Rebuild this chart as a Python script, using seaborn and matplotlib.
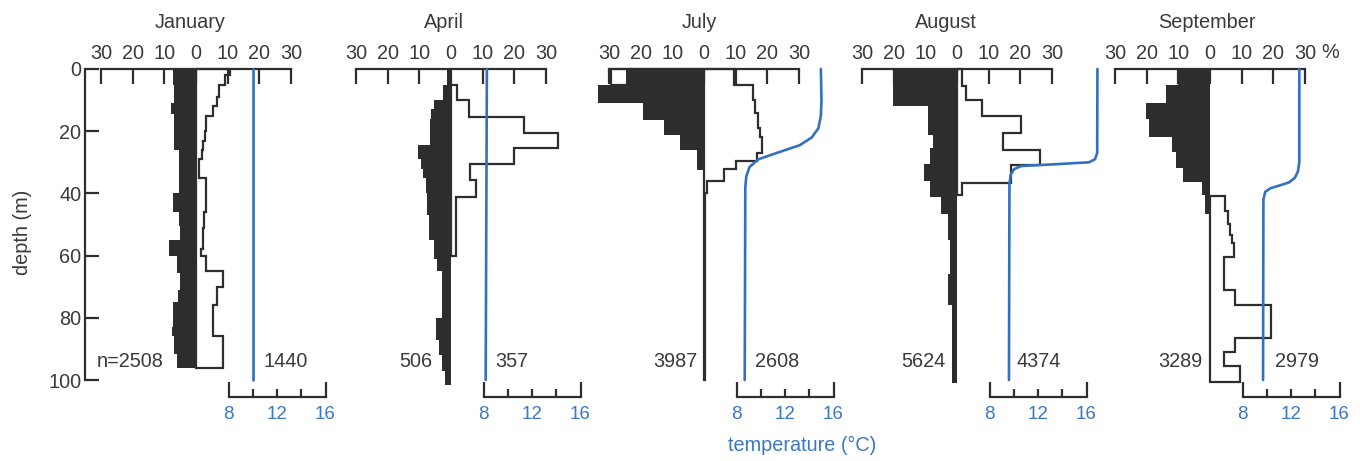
import numpy as np
import matplotlib
matplotlib.use("Agg")
import matplotlib.pyplot as plt
import matplotlib.transforms as mtransforms
from matplotlib import font_manager
import seaborn as sns

# ---------------- data ----------------
months = ["January", "April", "July", "August", "September"]
n_left = ["n=2508", "506", "3987", "5624", "3289"]
n_right = ["1440", "357", "2608", "4374", "2979"]

# filled (left) histograms: depth bin edges (m) and percentages
jan_fill_edges = [0, 5, 11, 14.5, 26, 40, 46, 50.5, 55, 60, 65.5, 71, 75, 83, 86, 91.5, 96]
jan_fill_vals = [7.4, 6.9, 8.0, 6.9, 5.4, 7.2, 5.4, 5.1, 8.5, 5.9, 5.1, 5.6, 7.2, 7.7, 6.9, 5.9]
apr_fill_edges = [0, 5, 10, 13, 16, 24.5, 29, 32, 35, 40, 47, 55, 61, 65, 80, 87, 92, 97, 101.5]
apr_fill_vals = [1.2, 2.6, 5.5, 6.2, 6.8, 10.3, 9.6, 8.8, 8.0, 7.5, 7.0, 5.4, 4.4, 2.8, 4.9, 3.8, 2.8, 1.8]
jul_fill_edges = [0, 5.2, 11, 16.5, 21.3, 26, 32.5, 36]
jul_fill_vals = [24.7, 33.6, 19.3, 12.8, 7.6, 2.1, 0.4]
aug_fill_edges = [0, 12, 21.3, 25.4, 30.6, 36, 41, 46.5, 55, 66, 76, 101]
aug_fill_vals = [20.3, 9.2, 7.5, 8.5, 10.5, 8.6, 5.0, 3.0, 2.2, 2.8, 1.6]
sep_fill_edges = [0, 5.2, 11, 16, 22, 26.6, 31.7, 36.2, 40.6, 46.6]
sep_fill_vals = [10.2, 13.8, 20.3, 19.2, 12.0, 10.9, 8.7, 2.6, 1.5]

# open (right) histograms
jan_open_edges = [0, 2, 5, 9, 12, 15, 20, 23, 26, 29, 35, 46, 51, 58, 60, 65, 70, 76, 86, 96]
jan_open_vals = [10.7, 9.2, 7.4, 6.5, 5.5, 3.2, 2.8, 2.3, 1.8, 0.9, 3.2, 2.5, 2.2, 1.5, 3.2, 8.5, 6.5, 5.5, 8.5]
apr_open_edges = [5.3, 10, 15.5, 20.5, 25.5, 30.4, 35.8, 41, 60]
apr_open_vals = [1.8, 5.8, 23, 34, 20, 6, 8, 1.5]
jul_open_edges = [0, 5.2, 10, 14, 19, 22, 27, 29.5, 32, 36, 40, 100]
jul_open_vals = [9.4, 15.6, 16.2, 17.2, 17.8, 18.3, 16.7, 10, 6.3, 1.0, 0.3]
aug_open_edges = [0, 5.5, 10, 15, 20.5, 26, 31, 36.5, 40.5]
aug_open_vals = [1.5, 3.0, 8.0, 20.2, 14.5, 26.3, 17.0, 1.5]
sep_open_edges = [40.8, 45.6, 50, 53.5, 56, 60.5, 71, 75.8, 86.4, 91, 95.5, 100.8]
sep_open_vals = [4.7, 5.8, 6.4, 6.9, 7.6, 4.4, 7.9, 19.2, 7.9, 4.3, 9.4]

# July surface bin: outline extends beyond the filled part
jul_box_edges = [0, 5.2]
jul_box_vals = [29.5]

# temperature profiles
jan_t_depth = [0, 100]
jan_t_temp = [10.0, 10.0]
apr_t_depth = [0, 100]
apr_t_temp = [8.25, 8.15]
jul_t_depth = [0, 10, 15, 19, 22, 24.5, 27, 29, 31.5, 34.5, 38, 100]
jul_t_temp = [14.95, 15.0, 14.95, 14.75, 14.2, 13.2, 11.3, 9.8, 9.05, 8.78, 8.7, 8.65]
aug_t_depth = [0, 27, 29, 30, 30.6, 31.2, 32.2, 34, 37, 100]
aug_t_temp = [16.9, 16.88, 16.7, 16.2, 13.5, 10.6, 10.0, 9.72, 9.62, 9.58]
sep_t_depth = [0, 30, 33, 35, 36.5, 37.5, 38.3, 39.5, 42, 100]
sep_t_temp = [12.67, 12.67, 12.55, 12.3, 11.8, 11.0, 10.3, 9.85, 9.7, 9.67]

pct_ticks = [-30, -20, -10, 0, 10, 20, 30]
pct_labels = ["30", "20", "10", "0", "10", "20", "30"]
depth_ticks = [0, 20, 40, 60, 80, 100]
temp_major = [8, 16]
temp_minor = [10, 12, 14]

fills = [(jan_fill_edges, jan_fill_vals), (apr_fill_edges, apr_fill_vals),
         (jul_fill_edges, jul_fill_vals), (aug_fill_edges, aug_fill_vals),
         (sep_fill_edges, sep_fill_vals)]
opens = [(jan_open_edges, jan_open_vals), (apr_open_edges, apr_open_vals),
         (jul_open_edges, jul_open_vals), (aug_open_edges, aug_open_vals),
         (sep_open_edges, sep_open_vals)]
temps = [(jan_t_depth, jan_t_temp), (apr_t_depth, apr_t_temp),
         (jul_t_depth, jul_t_temp), (aug_t_depth, aug_t_temp),
         (sep_t_depth, sep_t_temp)]

# ---------------- layout / style ----------------
sns.set_theme(style="white")
avail = {f.name for f in font_manager.fontManager.ttflist}
fam = "Liberation Sans" if "Liberation Sans" in avail else "DejaVu Sans"
plt.rcParams["font.family"] = [fam, "DejaVu Sans"]

W, H = 1360, 461
zero_px = [196, 451, 704, 957, 1210]
PX = 3.16                # px per percent unit
X_LO, X_HI = -35, 45
Y0_PX, Y100_PX = 69, 380
T8_PCT, PCT_PER_C = 10.4, 3.825

title_x = [-1.9, -2.1, -1.6, -3.6, -1.0]
nl_x = [-10.4, -5.8, -2.1, -3.5, -2.3]
nr_x = [21.3, 13.9, 16.1, 18.9, 20.6]

DARK = "#2d2d2d"
LINE = "#2e2e2e"
TXT = "#3a3a3a"
BLUE = "#3470c0"
BLUE_T = "#3b78c4"
FS = 14.3

fig = plt.figure(figsize=(W / 100, H / 100), dpi=100)
fig.patch.set_facecolor("white")

for i, x0 in enumerate(zero_px):
    left = (x0 + X_LO * PX) / W
    width = (X_HI - X_LO) * PX / W
    bottom = (H - Y100_PX) / H
    height = (Y100_PX - Y0_PX) / H
    ax = fig.add_axes([left, bottom, width, height])
    ax.patch.set_alpha(0)
    ax2 = ax.twiny()
    ax2.patch.set_alpha(0)
    ax.set_xlim(X_LO, X_HI)

    # histograms
    e, v = fills[i]
    ax.stairs(-np.asarray(v), e, orientation="horizontal", baseline=0, fill=True,
              color=DARK, lw=0, clip_on=False, zorder=3)
    e, v = opens[i]
    ax.stairs(np.asarray(v), e, orientation="horizontal",
              baseline=np.zeros(len(v)), fill=False, color=LINE, lw=1.6,
              clip_on=False, zorder=4)
    if i == 2:
        ax.stairs(-np.asarray(jul_box_vals), jul_box_edges, orientation="horizontal",
                  baseline=0, fill=False, color=LINE, lw=1.6, clip_on=False, zorder=2)

    # spines
    for s in ["bottom", "right"]:
        ax.spines[s].set_visible(False)
    ax.spines["top"].set_visible(True)
    ax.spines["top"].set_bounds(-30, 30)
    ax.spines["top"].set_color(LINE)
    ax.spines["top"].set_linewidth(1.6)
    ax.xaxis.tick_top()
    ax.set_xticks(pct_ticks)
    ax.set_xticklabels(pct_labels)
    ax.tick_params(axis="x", direction="in", length=11, width=1.6, pad=4,
                   labelsize=FS, color=LINE, labelcolor=TXT, top=True, bottom=False,
                   labeltop=True, labelbottom=False)
    if i == 0:
        ax.spines["left"].set_bounds(0, 100)
        ax.spines["left"].set_color(LINE)
        ax.spines["left"].set_linewidth(1.6)
        ax.set_yticks(depth_ticks)
        ax.tick_params(axis="y", direction="in", length=10, width=1.6, pad=3,
                       labelsize=FS, color=LINE, labelcolor=TXT, left=True)
        ax.text(-0.25, 0.474, "depth (m)", rotation=90, ha="center", va="center",
                transform=ax.transAxes, fontsize=FS, color=TXT)
    else:
        ax.spines["left"].set_visible(False)
        ax.set_yticks([])

    # temperature axis
    t_lo = 8 + (X_LO - T8_PCT) / PCT_PER_C
    t_hi = 8 + (X_HI - T8_PCT) / PCT_PER_C
    d, t = temps[i]
    sns.lineplot(x=t, y=d, ax=ax2, orient="y", sort=False, estimator=None,
                 color=BLUE, lw=1.9, clip_on=False, zorder=5)
    ax2.set_xlim(t_lo, t_hi)
    ax2.set_xlabel("")
    ax2.set_ylabel("")
    for s in ["top", "left", "right"]:
        ax2.spines[s].set_visible(False)
    ax2.spines["bottom"].set_visible(True)
    ax2.spines["bottom"].set_position(("outward", 12))
    ax2.spines["bottom"].set_bounds(8, 16)
    ax2.spines["bottom"].set_color(LINE)
    ax2.spines["bottom"].set_linewidth(1.6)
    ax2.xaxis.set_ticks_position("bottom")
    ax2.set_xticks(temp_major)
    ax2.set_xticklabels([str(x) for x in temp_major])
    ax2.set_xticks(temp_minor, minor=True)
    ax2.set_xticklabels(["", "12", ""], minor=True)
    ax2.tick_params(axis="x", which="major", direction="in", length=11, width=1.6,
                    pad=7, labelsize=13.5, color=LINE, labelcolor=BLUE_T,
                    bottom=True, top=False, labelbottom=True, labeltop=False)
    ax2.tick_params(axis="x", which="minor", direction="in", length=6, width=1.6,
                    pad=7, labelsize=13.5, color=LINE, labelcolor=BLUE_T,
                    bottom=True, top=False, labelbottom=True, labeltop=False)
    ax.set_ylim(100, 0)
    ax2.set_ylim(100, 0)

    # texts
    tr = mtransforms.blended_transform_factory(ax.transData, fig.transFigure)
    ax.text(title_x[i], 1 - 22 / H, months[i], transform=tr, ha="center", va="center",
            fontsize=FS, color=TXT)
    ax.text(nl_x[i], 94.2, n_left[i], ha="right", va="center", fontsize=FS, color=TXT)
    ax.text(nr_x[i], 94.2, n_right[i], ha="left", va="center", fontsize=FS, color=TXT)
    if i == 4:
        ax.text(38.0, 1 - 52 / H, "%", transform=tr, ha="center", va="center",
                fontsize=FS, color=TXT)

fig.text(802 / W, 1 - 445 / H, "temperature (\u00b0C)", ha="center", va="center",
         fontsize=FS, color=BLUE_T)

fig.savefig("out.png", dpi=100)
